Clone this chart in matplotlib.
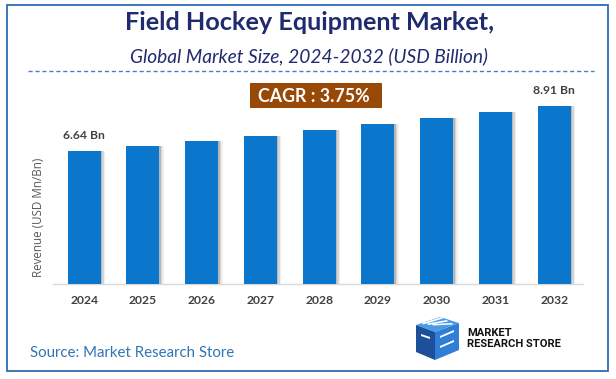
import matplotlib.pyplot as plt
from matplotlib.patches import Rectangle, Polygon
from matplotlib.lines import Line2D

# data
years = ["2024", "2025", "2026", "2027", "2028", "2029", "2030", "2031", "2032"]
revenue = [6.64, 6.89, 7.15, 7.41, 7.69, 7.98, 8.28, 8.59, 8.91]
first_label = "6.64 Bn"
last_label = "8.91 Bn"
cagr_text = "CAGR : 3.75%"

W, H = 616, 379
fig = plt.figure(figsize=(W / 100, H / 100), dpi=100)
fig.patch.set_facecolor("white")


def px(x, y):
    # pixel coords (from top-left) -> figure fraction
    return x / W, 1 - y / H


# outer border
x0, y0 = px(7, 371)
x1, y1 = px(608, 5)
fig.patches.append(Rectangle((x0, y0), x1 - x0, y1 - y0, transform=fig.transFigure,
                             fill=False, edgecolor="#2E6DB4", linewidth=1.3))

# titles
navy = "#202A6E"
fig.text(*px(310, 23), "Field Hockey Equipment Market,", ha="center", va="center",
         fontsize=18.2, fontweight="bold", color=navy, family="Lato")
fig.text(*px(309, 56), "Global Market Size, 2024-2032 (USD Billion)", ha="center", va="center",
         fontsize=13.8, style="italic", color=navy, family="Lato")
lx0, ly = px(28, 71)
lx1, _ = px(594, 71)
fig.lines.append(Line2D([lx0, lx1], [ly, ly], transform=fig.transFigure,
                        color="#4A7CC9", linestyle=(0, (3, 2)), linewidth=1))

# bars
left, bottom = px(53, 284)
right, top = px(583, 90)
ax = fig.add_axes([left, bottom, right - left, top - bottom])
xs = list(range(len(years)))
bw = 0.56
# soft shadow on the right
for i, a in enumerate([0.35, 0.22, 0.12]):
    ax.bar([x + 0.025 * (i + 1) for x in xs], revenue, width=bw, color="#7F7F7F",
           alpha=a, zorder=1, linewidth=0)
ax.bar(xs, revenue, width=bw, color="#0A77CC", zorder=3, linewidth=0)
ax.set_xlim(-0.53, 8.49)
ax.set_ylim(0, 9.69)
for s in ["top", "right", "left"]:
    ax.spines[s].set_visible(False)
ax.spines["bottom"].set_color("#D9D9D9")
ax.spines["bottom"].set_linewidth(1)
ax.set_yticks([])
ax.set_xticks(xs)
ax.set_xticklabels(years, fontsize=8.7, fontweight="bold", color="#404040", family="Lato")
ax.tick_params(axis="x", length=0, pad=8)
ax.patch.set_alpha(0)

ax.annotate(first_label, (xs[0], revenue[0]), xytext=(0, 7), textcoords="offset points",
            ha="center", va="bottom", fontsize=8.7, fontweight="bold", color="#404040", family="Lato")
ax.annotate(last_label, (xs[-1], revenue[-1]), xytext=(0, 7), textcoords="offset points",
            ha="center", va="bottom", fontsize=8.7, fontweight="bold", color="#404040", family="Lato")

fig.text(*px(39, 217), "Revenue (USD Mn/Bn)", rotation=90, ha="center", va="center",
         fontsize=8.4, color="#595959", family="Open Sans")

# CAGR box
bx0, by0 = px(250, 108)
bx1, by1 = px(382, 83)
fig.patches.append(Rectangle((bx0, by0), bx1 - bx0, by1 - by0, transform=fig.transFigure,
                             facecolor="#984807", edgecolor="none"))
fig.text(*px(314, 96), cagr_text, ha="center", va="center", fontsize=12.8,
         fontweight="bold", color="white", family="Lato")

# source
fig.text(*px(30, 353), "Source: Market Research Store", ha="left", va="center",
         fontsize=10.8, color="#2E75B6", family="Lato")


# logo
def poly(pts, color):
    fig.patches.append(Polygon([px(a, b) for a, b in pts], closed=True,
                               transform=fig.transFigure, facecolor=color, edgecolor="none"))


poly([(416, 325), (440, 317), (459, 323), (435, 332)], "#4A9BE8")
poly([(416, 325), (435, 332), (435, 360), (416, 352)], "#1D4F9A")
poly([(435, 332), (459, 323), (459, 350), (435, 360)], "#2F7FD6")
for k in range(3):
    poly([(422 + k * 5, 323 + k * 0.5), (442 + k * 5, 317 + k * 3),
          (443 + k * 5, 318.5 + k * 3), (423 + k * 5, 324.5 + k * 0.5)], "white")
poly([(421, 334), (430, 337), (430, 339), (421, 336)], "white")
poly([(440, 336), (454, 330), (454, 332), (440, 338)], "white")
poly([(440, 346), (454, 340), (454, 342), (440, 348)], "white")
fig.text(*px(467, 338), "MARKET", ha="left", va="bottom", fontsize=8,
         fontweight="bold", color="#111111", family="Roboto")
fig.text(*px(467, 339), "RESEARCH STORE", ha="left", va="top", fontsize=8,
         fontweight="bold", color="#111111", family="Roboto")

fig.savefig("out.png", dpi=100)
